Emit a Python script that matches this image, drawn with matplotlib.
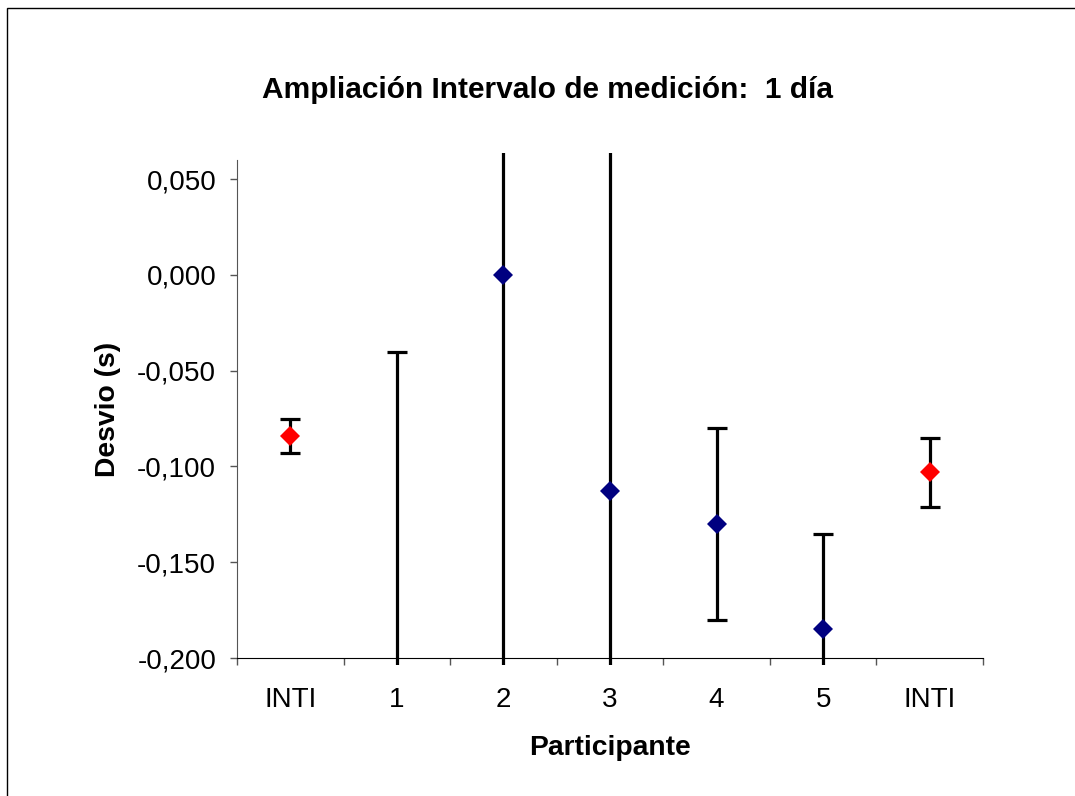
import matplotlib
matplotlib.use("Agg")
from matplotlib import pyplot as plt
from matplotlib.patches import Rectangle

plt.rcParams["font.family"] = ["Liberation Sans", "DejaVu Sans"]

# datos
participantes = ["INTI", "1", "2", "3", "4", "5", "INTI"]
desvios = [-0.084, -0.26, 0.000, -0.113, -0.130, -0.185, -0.103]
incertidumbres = [0.009, 0.22, 0.30, 0.30, 0.050, 0.050, 0.018]
es_inti = [True, False, False, False, False, False, True]

fig = plt.figure(figsize=(10.75, 7.96), dpi=100)
ax = fig.add_axes([237 / 1075, 1 - 658 / 796, 746 / 1075, 498 / 796])

# recorte un poco mas grande que el area del grafico (como en Excel)
clip = Rectangle((0, -0.014), 1, 1.028, transform=ax.transAxes, facecolor="none", edgecolor="none")
ax.add_patch(clip)

for i, (y, e, inti) in enumerate(zip(desvios, incertidumbres, es_inti)):
    color = "#ff0000" if inti else "#000080"
    cont = ax.errorbar(i, y, yerr=e, fmt="D", color=color, markersize=10,
                       ecolor="black", elinewidth=2.3,
                       capsize=7.5, capthick=2.3, zorder=3)
    for artist in cont.lines[2]:
        artist.set_clip_path(clip)
    cont.lines[0].set_markeredgewidth(0)
    cont.lines[0].set_zorder(4)

ax.set_xlim(-0.5, 6.5)
ax.set_ylim(-0.2, 0.06)
ax.set_xticks(range(len(participantes)))
ax.set_xticklabels(participantes)
ax.set_xticks([i - 0.5 for i in range(len(participantes) + 1)], minor=True)
ax.set_yticks([-0.2, -0.15, -0.1, -0.05, 0.0, 0.05])
ax.set_yticklabels(["-0,200", "-0,150", "-0,100", "-0,050", "0,000", "0,050"])

ax.tick_params(axis="x", which="major", length=0, labelsize=20, pad=21)
ax.tick_params(axis="x", which="minor", length=5, width=1, color="#555555")
ax.tick_params(axis="y", length=5, width=1, color="#555555", labelsize=20, pad=10)

ax.spines["top"].set_visible(False)
ax.spines["right"].set_visible(False)
ax.spines["left"].set_color("#555555")
ax.spines["bottom"].set_color("black")

fig.text(610 / 1075, 1 - 748 / 796, "Participante", ha="center", va="center",
         fontsize=20.3, fontweight="bold")
fig.text(108 / 1075, 1 - 409 / 796, "Desvio (s)", ha="center", va="center",
         rotation=90, fontsize=20.3, fontweight="bold")
fig.text(547 / 1075, 1 - 90 / 796, "Ampliación Intervalo de medición:  1 día",
         ha="center", va="center", fontsize=21.5, fontweight="bold")

# marco del area del grafico
fig.patches.append(Rectangle((7 / 1075, -0.1), 2, 1.1 - 8 / 796, transform=fig.transFigure,
                             fill=False, edgecolor="black", linewidth=1))

fig.savefig("out.png", dpi=100)
